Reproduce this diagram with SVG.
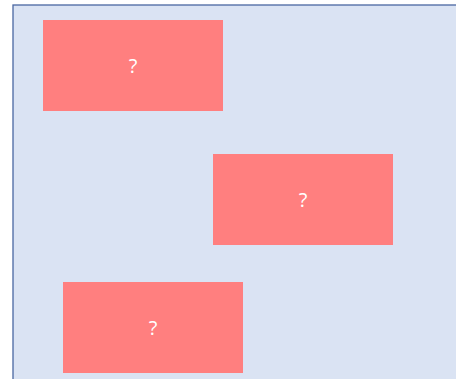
<svg xmlns="http://www.w3.org/2000/svg" width="456" height="379" viewBox="0 0 456 379">
<style>
.node rect{fill:#ff7f7f;stroke:none}
.node text{fill:#ffffff;font-family:"Open Sans","Noto Sans",sans-serif;font-size:20px;text-anchor:middle}
</style>
<rect id="background" x="13" y="5" width="460" height="390" fill="#dae3f3" stroke="#4a67a1" stroke-width="1.3"/>
<g id="connectors"></g>
<g id="node1" class="node"><rect x="43" y="20" width="180" height="91"/><text x="133" y="73">?</text></g>
<g id="node2" class="node"><rect x="213" y="154" width="180" height="91"/><text x="303" y="207">?</text></g>
<g id="node3" class="node"><rect x="63" y="282" width="180" height="91"/><text x="153" y="335">?</text></g>
</svg>
